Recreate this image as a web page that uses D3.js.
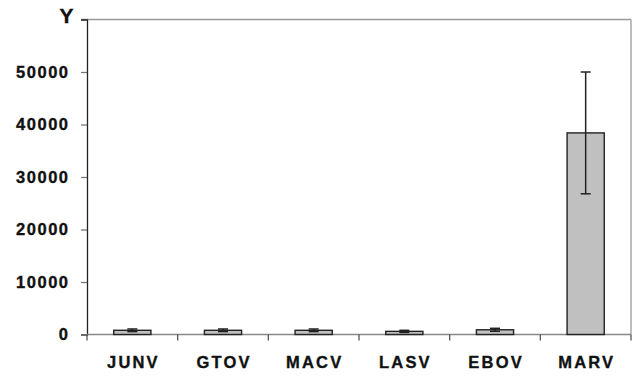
<!DOCTYPE html>
<html>
<head>
<meta charset="utf-8">
<script src="https://cdn.jsdelivr.net/npm/d3@7"></script>
<style>
  html, body { margin: 0; padding: 0; background: #fff; }
  svg { display: block; }
  text { font-family: "Liberation Sans", Arial, sans-serif; font-weight: bold; fill: #111; stroke: #111; stroke-width: 0.35px; }
</style>
</head>
<body>
<svg id="chart" width="632" height="379"></svg>
<script>
// Virus titres with standard deviation
const categories = ["JUNV", "GTOV", "MACV", "LASV", "EBOV", "MARV"];
const values = [800, 800, 800, 600, 900, 38400];
const errors = [250, 250, 250, 200, 280, 11600];
const yTicks = [0, 10000, 20000, 30000, 40000, 50000];
const yAxisLabel = "Y";

const svg = d3.select("#chart");
const plotLeft = 87, plotRight = 631, plotTop = 19.5, plotBottom = 334.5;

const x = d3.scaleBand().domain(categories).range([plotLeft, plotRight])
  .paddingInner(0.59).paddingOuter(0.295);
const y = d3.scaleLinear().domain([0, 60000]).range([plotBottom, plotTop]);

// frame: top and right borders
svg.append("line").attr("x1", plotLeft - 6).attr("x2", plotRight).attr("y1", plotTop).attr("y2", plotTop)
  .attr("stroke", "#999").attr("stroke-width", 1.3);
svg.append("line").attr("x1", plotRight).attr("x2", plotRight).attr("y1", plotTop).attr("y2", plotBottom)
  .attr("stroke", "#999").attr("stroke-width", 1.3);

// y axis
const yAxis = svg.append("g").attr("transform", `translate(${plotLeft},0)`)
  .call(d3.axisLeft(y).tickValues(yTicks).tickSize(6).tickPadding(13).tickFormat(d3.format("d")));
yAxis.select(".domain").attr("stroke", "#222").attr("stroke-width", 1.3);
yAxis.selectAll(".tick line").attr("stroke", "#777").attr("stroke-width", 1.3);
yAxis.selectAll(".tick text").attr("font-size", 16.5).attr("letter-spacing", "1.5px")
  .attr("font-family", "Liberation Sans, Arial, sans-serif").attr("font-weight", "bold")
  .attr("fill", "#111").attr("dx", "1.5px");

svg.append("text").attr("x", 66.5).attr("y", 23)
  .attr("text-anchor", "middle").attr("font-size", 21).text(yAxisLabel);

// x axis line and band separators
svg.append("line").attr("x1", plotLeft).attr("x2", plotRight).attr("y1", plotBottom).attr("y2", plotBottom)
  .attr("stroke", "#888").attr("stroke-width", 1.4);
const bounds = categories.map(c => x(c) - x.step() * x.paddingInner() / 2);
bounds[0] = plotLeft;
bounds.push(plotRight);
svg.append("g").selectAll("line").data(bounds).join("line")
  .attr("x1", d => d).attr("x2", d => d).attr("y1", plotBottom).attr("y2", plotBottom + 6)
  .attr("stroke", "#555").attr("stroke-width", 1.3);

// category labels
svg.append("g").selectAll("text").data(categories).join("text")
  .attr("x", d => x(d) + x.bandwidth() / 2 + 1.1)
  .attr("y", 367.5)
  .attr("text-anchor", "middle").attr("font-size", 16.5).attr("letter-spacing", "2.2px")
  .text(d => d);

// bars
const data = categories.map((c, i) => ({ c, v: values[i], e: errors[i] }));
svg.append("g").selectAll("rect").data(data).join("rect")
  .attr("x", d => x(d.c)).attr("width", x.bandwidth())
  .attr("y", d => y(d.v)).attr("height", d => y(0) - y(d.v))
  .attr("fill", "#c0c0c0").attr("stroke", "#222").attr("stroke-width", 1.4);

// error bars
const eb = svg.append("g").selectAll("g").data(data).join("g")
  .attr("stroke", "#222").attr("stroke-width", 1.5);
eb.append("line")
  .attr("x1", d => x(d.c) + x.bandwidth() / 2).attr("x2", d => x(d.c) + x.bandwidth() / 2)
  .attr("y1", d => y(d.v + d.e)).attr("y2", d => y(d.v - d.e));
eb.append("line")
  .attr("x1", d => x(d.c) + x.bandwidth() / 2 - 5).attr("x2", d => x(d.c) + x.bandwidth() / 2 + 5)
  .attr("y1", d => y(d.v + d.e)).attr("y2", d => y(d.v + d.e));
eb.append("line")
  .attr("x1", d => x(d.c) + x.bandwidth() / 2 - 5).attr("x2", d => x(d.c) + x.bandwidth() / 2 + 5)
  .attr("y1", d => y(d.v - d.e)).attr("y2", d => y(d.v - d.e));
</script>
</body>
</html>
